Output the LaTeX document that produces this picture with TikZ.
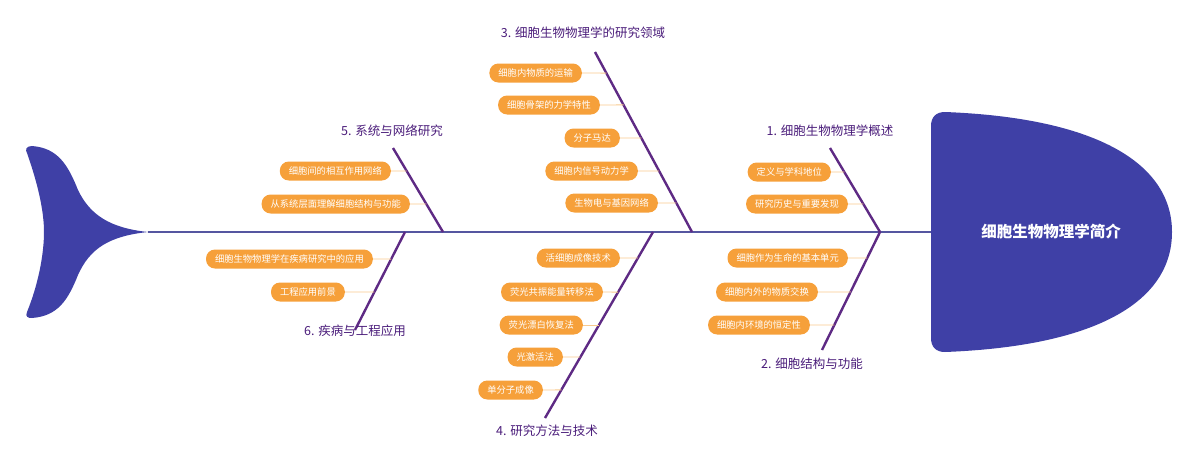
\documentclass[tikz,border=0pt]{standalone}
\usepackage{fontspec}
\setmainfont{Noto Sans CJK SC}
\usetikzlibrary{calc}
\definecolor{org}{HTML}{F6A03A}
\definecolor{orgl}{HTML}{F8C98E}
\definecolor{bone}{HTML}{5E2A84}
\definecolor{spine}{HTML}{5556A0}
\definecolor{fish}{HTML}{3F40A6}
\definecolor{lab}{HTML}{4A1C7A}
\tikzset{
 sub/.style={fill=org,rounded corners=9pt,text=white,font=\fontsize{9.3}{10}\selectfont,inner xsep=9pt,minimum height=19pt,anchor=east},
 bonel/.style={draw=bone,line width=2.4pt},
 conn/.style={draw=orgl,line width=0.9pt},
 lbl/.style={text=lab,font=\fontsize{12.5}{14}\selectfont}
}
\begin{document}
\begin{tikzpicture}[x=1pt,y=-1pt]
\useasboundingbox (0,0) rectangle (1200,464);
% tail
\fill[fish] (148,232) .. controls (110,228) and (90,215) .. (78,190) .. controls (68,165) and (58,148) .. (32,146) .. controls (26,146) and (25,150) .. (27,153) .. controls (40,190) and (44,215) .. (44,232) .. controls (44,250) and (40,280) .. (27,312) .. controls (25,317) and (28,318) .. (32,318) .. controls (58,316) and (68,300) .. (78,275) .. controls (90,248) and (110,236) .. (148,232) -- cycle;
% head
\fill[fish] (945,112) .. controls (1100,118) and (1172,165) .. (1172,232) .. controls (1172,300) and (1100,346) .. (945,352) .. controls (936,352) and (931,347) .. (931,338) -- (931,126) .. controls (931,117) and (936,112) .. (945,112) -- cycle;
\node[text=white,font=\bfseries\fontsize{15.5}{17}\selectfont] (head) at (1051,232) {细胞生物物理学简介};
\coordinate (sp0) at (148,232);
\coordinate (sp1) at (931,232);
\draw[spine,line width=1.3pt] (sp0) -- (sp1);
% bones
\coordinate (b1s) at (880,232); \coordinate (b1e) at (830,148);
\coordinate (b2s) at (880,232); \coordinate (b2e) at (822,350);
\coordinate (b3s) at (692,232); \coordinate (b3e) at (595,52);
\coordinate (b4s) at (653,232); \coordinate (b4e) at (545,418);
\coordinate (b5s) at (443,232); \coordinate (b5e) at (393,148);
\coordinate (b6s) at (405,232); \coordinate (b6e) at (355,330);
\foreach \i in {1,...,6}{\draw[bonel] (b\i s) -- (b\i e);}
\node[lbl] (l1) at (830,131) {1. 细胞生物物理学概述};
\node[lbl] (l2) at (812,364) {2. 细胞结构与功能};
\node[lbl] (l3) at (583,33) {3. 细胞生物物理学的研究领域};
\node[lbl] (l4) at (547,431) {4. 研究方法与技术};
\node[lbl] (l5) at (392,131) {5. 系统与网络研究};
\node[lbl] (l6) at (355,331) {6. 疾病与工程应用};
\foreach \n/\x/\y/\t/\b/\f in {
 a1/831/172/定义与学科地位/1/0.714,
 a2/848/204/研究历史与重要发现/1/0.333,
 c1/848/258/细胞作为生命的基本单元/2/0.220,
 c2/818/292/细胞内外的物质交换/2/0.508,
 c3/810/325/细胞内环境的恒定性/2/0.788,
 d1/582/73/细胞内物质的运输/3/0.883,
 d2/600/105/细胞骨架的力学特性/3/0.706,
 d3/620/138/分子马达/3/0.522,
 d4/638/171/细胞内信号动力学/3/0.339,
 d5/658/203/生物电与基因网络/3/0.161,
 e1/620/258/活细胞成像技术/4/0.140,
 e2/603/292/荧光共振能量转移法/4/0.323,
 e3/583/325/荧光漂白恢复法/4/0.500,
 e4/563/357/光激活法/4/0.672,
 e5/543/390/单分子成像/4/0.849,
 f1/391/171/细胞间的相互作用网络/5/0.726,
 f2/410/204/从系统层面理解细胞结构与功能/5/0.333,
 g1/373/259/细胞生物物理学在疾病研究中的应用/6/0.276,
 g2/345/292/工程应用前景/6/0.612}{
 \node[sub] (\n) at (\x,\y) {\t};
 \coordinate (\n b) at ($(b\b s)!\f!(b\b e)$);
 \draw[conn] (\n.east) -- (\n b);
}
\end{tikzpicture}
\end{document}
